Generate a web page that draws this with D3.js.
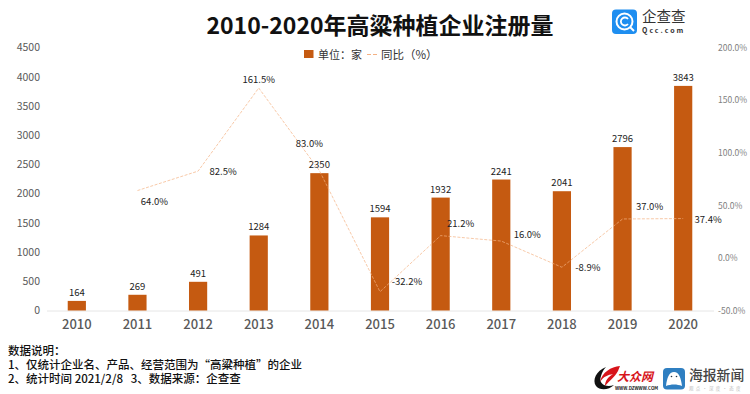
<!DOCTYPE html>
<html>
<head>
<meta charset="utf-8">
<title>chart</title>
<script src="https://d3js.org/d3.v7.min.js"></script>
<style>
html, body { margin: 0; padding: 0; background: #fff; overflow: hidden; }
svg { display: block; }
text { font-family: "Noto Sans CJK SC", "Noto Sans", sans-serif; }
.lbl { font-size: 9.5px; fill: #222; }
.note { font-size: 11.5px; fill: #111; font-weight: 500; white-space: pre; }
</style>
</head>
<body>
<svg id="chart" width="750" height="394"></svg>
<script>
const years = [2010, 2011, 2012, 2013, 2014, 2015, 2016, 2017, 2018, 2019, 2020];
const counts = [164, 269, 491, 1284, 2350, 1594, 1932, 2241, 2041, 2796, 3843];
const yoy = [null, 64.0, 82.5, 161.5, 83.0, -32.2, 21.2, 16.0, -8.9, 37.0, 37.4];
const leftTicks = [0, 500, 1000, 1500, 2000, 2500, 3000, 3500, 4000, 4500];
const rightTicks = [-50, 0, 50, 100, 150, 200];
// label offsets for the yoy values, they sit all over the place in the original
const yoyDx = [0, 17, 25, 0, -10, 27, 20, 26, 26, 27, 25];
const yoyDy = [0, 11, 1, -8, -27, -10, -12, -6, 1, -12, 1];
const notes = ["数据说明：", "1、仅统计企业名、产品、经营范围为“高粱种植”的企业", "2、统计时间 2021/2/8   3、数据来源：企查查"];

const svg = d3.select("svg#chart");
const barColor = "#c55a11";
const lineColor = "#f4b183";

const x = d3.scaleBand().domain(years).range([46.5, 713.5]).paddingInner(0.7).paddingOuter(0.35);
const yLeft = d3.scaleLinear().domain([0, 4500]).range([310.5, 47.5]);
const yRight = d3.scaleLinear().domain([-50, 200]).range([310.5, 47.5]);

// title
svg.append("text").attr("x", 380).attr("y", 34).attr("text-anchor", "middle")
   .style("font-size", "23px").style("font-weight", 700).attr("fill", "#111")
   .text("2010-2020年高粱种植企业注册量");

// left axis
const axisLeft = svg.append("g").attr("transform", "translate(40,0)")
   .call(d3.axisLeft(yLeft).tickValues(leftTicks).tickFormat(d3.format("d")).tickSize(0).tickPadding(0));
axisLeft.select(".domain").remove();
axisLeft.selectAll("text").style("font-size", "10.5px").attr("fill", "#595959");

// right axis
const axisRight = svg.append("g").attr("transform", "translate(718,0)")
   .call(d3.axisRight(yRight).tickValues(rightTicks).tickSize(0).tickPadding(0).tickFormat(d => d.toFixed(1) + "%"));
axisRight.select(".domain").remove();
axisRight.selectAll("text").style("font-size", "8.5px").attr("fill", "#7f7f7f");

// bottom axis
const axisBottom = svg.append("g").attr("transform", "translate(0,310.5)")
   .call(d3.axisBottom(x).tickSize(0).tickPadding(9));
axisBottom.select(".domain").attr("stroke", "#e6e6e6");
axisBottom.selectAll("text").style("font-size", "13px").style("font-weight", 500).attr("fill", "#595959");

// bars
svg.selectAll("rect.bar").data(years)
   .join("rect")
   .attr("class", "bar")
   .attr("x", d => x(d))
   .attr("width", x.bandwidth())
   .attr("y", (d, i) => yLeft(counts[i]))
   .attr("height", (d, i) => yLeft(0) - yLeft(counts[i]))
   .attr("fill", barColor);

svg.selectAll("text.count").data(years)
   .join("text")
   .attr("class", "lbl count")
   .attr("x", d => x(d) + x.bandwidth() / 2)
   .attr("y", (d, i) => yLeft(counts[i]) - 5)
   .attr("text-anchor", "middle")
   .text((d, i) => counts[i]);

// yoy line
const line = d3.line()
   .defined((d, i) => yoy[i] !== null)
   .x(d => x(d) + x.bandwidth() / 2)
   .y((d, i) => yRight(yoy[i]));
svg.append("path").datum(years)
   .attr("d", line)
   .attr("fill", "none")
   .attr("stroke", lineColor)
   .attr("stroke-width", 0.7)
   .attr("stroke-dasharray", "3,1.5");

svg.selectAll("text.yoy").data(years.filter((d, i) => yoy[i] !== null))
   .join("text")
   .attr("class", "lbl yoy")
   .attr("text-anchor", "middle")
   .attr("x", d => x(d) + x.bandwidth() / 2 + yoyDx[years.indexOf(d)])
   .attr("y", d => yRight(yoy[years.indexOf(d)]) + yoyDy[years.indexOf(d)] + 3)
   .text(d => yoy[years.indexOf(d)].toFixed(1) + "%");

// legend
svg.append("rect").attr("x", 304).attr("y", 50).attr("width", 9.5).attr("height", 8).attr("fill", barColor);
svg.append("text").attr("x", 318).attr("y", 58.5).attr("fill", "#333").style("font-size", "11px").text("单位：家");
svg.append("line").attr("x1", 367).attr("x2", 377).attr("y1", 54.5).attr("y2", 54.5)
   .attr("stroke", lineColor).attr("stroke-width", 1).attr("stroke-dasharray", "4,2");
svg.append("text").attr("x", 381).attr("y", 58.5).attr("fill", "#333").style("font-size", "11.5px").text("同比（%）");

// notes
svg.selectAll("text.note").data(notes)
   .join("text")
   .attr("class", "note")
   .attr("x", 8)
   .attr("y", (d, i) => 355 + i * 14)
   .text(d => d);

// qcc logo
const qcc = svg.append("g");
qcc.append("rect").attr("x", 612).attr("y", 9.5).attr("width", 25).attr("height", 24.5).attr("rx", 4).attr("fill", "#1e8ef0");
qcc.append("circle").attr("cx", 624.5).attr("cy", 21.5).attr("r", 8).attr("fill", "none").attr("stroke", "#fff").attr("stroke-width", 2);
qcc.append("path").attr("d", "M628 19 A4 4 0 1 0 628 24").attr("fill", "none").attr("stroke", "#fff").attr("stroke-width", 1.8);
qcc.append("line").attr("x1", 630).attr("y1", 27).attr("x2", 634).attr("y2", 31).attr("stroke", "#fff").attr("stroke-width", 2);
qcc.append("text").attr("x", 642).attr("y", 21.5).attr("fill", "#333").style("font-size", "14.5px").text("企查查");
qcc.append("text").attr("x", 642).attr("y", 33).attr("fill", "#333").style("font-size", "7px").style("font-weight", 700).style("letter-spacing", "2px").text("Qcc.com");

// dazhong logo
const dz = svg.append("g");
dz.append("path").attr("d", "M606 367 C596 371 592 380 596 386 C600 391 609 390 614 385 C606 388 598 384 601 376 C602 372 604 369 606 367 Z").attr("fill", "#111");
dz.append("path").attr("d", "M620 366 C611 367 602 372 600 382 C604 376 608 375 613 374 C608 377 605 381 605 386 C610 380 615 377 618 371 Z").attr("fill", "#d7141a");
dz.append("text").attr("x", 617).attr("y", 381).attr("fill", "#d7141a").style("font-size", "12px").style("font-weight", 700).style("font-style", "italic").text("大众网");
dz.append("text").attr("x", 615).attr("y", 389.5).attr("fill", "#222").style("font-size", "4.5px").style("font-weight", 700).text("WWW.DZWWW.COM");

// haibao logo
const hb = svg.append("g");
hb.append("rect").attr("x", 663).attr("y", 368).attr("width", 22).attr("height", 21.5).attr("rx", 4).attr("fill", "#2f7fc1");
hb.append("path").attr("d", "M666 386 C667 378 669 372 674 372 C679 372 681 378 682 386 C677 384 671 384 666 386 Z").attr("fill", "#fff");
hb.append("circle").attr("cx", 671.5).attr("cy", 376.5).attr("r", 0.8).attr("fill", "#234");
hb.append("circle").attr("cx", 676.5).attr("cy", 376.5).attr("r", 0.8).attr("fill", "#234");
hb.append("text").attr("x", 689).attr("y", 380).attr("fill", "#444").style("font-size", "13.8px").style("font-weight", 500).text("海报新闻");
hb.append("text").attr("x", 689).attr("y", 389.5).attr("fill", "#bbb").style("font-size", "4.5px").style("letter-spacing", "2.2px").text("观点·深度·态度");
</script>
</body>
</html>
